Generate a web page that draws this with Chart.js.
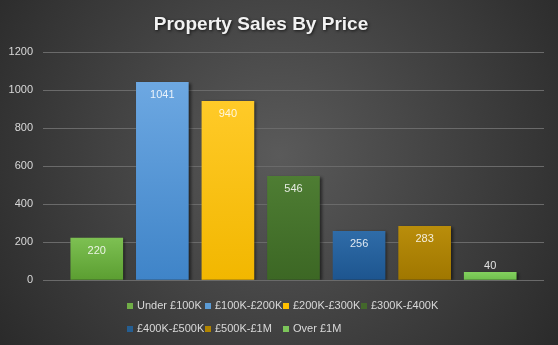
<!DOCTYPE html>
<html>
<head>
<meta charset="utf-8">
<script src="https://cdn.jsdelivr.net/npm/chart.js@4.4.1/dist/chart.umd.min.js"></script>
<style>
  html, body { margin: 0; padding: 0; background: #333; }
  canvas { display: block; }
</style>
</head>
<body>
<canvas id="chart" width="558" height="345"></canvas>
<script>
const chartTitle = "Property Sales By Price";
const categories = ["Under £100K", "£100K-£200K", "£200K-£300K", "£300K-£400K", "£400K-£500K", "£500K-£1M", "Over £1M"];
const sales = [220, 1041, 940, 546, 256, 283, 40];
const yMax = 1200, yStep = 200;

// lighter top / darker bottom of each bar
const topColors = ["#7dc052", "#6da8e2", "#ffca28", "#4e7d33", "#2f6ca8", "#b98d0b", "#82cf5e"];
const bottomColors = ["#5b9e31", "#3f84c8", "#f2b700", "#3c6724", "#1d558f", "#a07700", "#6fbe4c"];
const legendColors = ["#70ad47", "#5b9bd5", "#ffc000", "#43682b", "#255e91", "#b08400", "#7cc55a"];

const font = "'Liberation Sans', Arial, sans-serif";
const textColor = "#d9d9d9";

function barFill(ctx) {
  const chart = ctx.chart, i = ctx.dataIndex;
  if (!chart.chartArea || !chart.scales.y) return bottomColors[i];
  const top = chart.scales.y.getPixelForValue(sales[i]);
  const bottom = chart.scales.y.getPixelForValue(0);
  const g = chart.ctx.createLinearGradient(0, top, 0, bottom);
  g.addColorStop(0, topColors[i]);
  g.addColorStop(1, bottomColors[i]);
  return g;
}

const background = {
  id: "background",
  beforeDraw(chart) {
    const c = chart.ctx, w = chart.width, h = chart.height;
    const g = c.createRadialGradient(w / 2, h * 0.45, 0, w / 2, h * 0.45, 340);
    g.addColorStop(0, "#5a5a5a");
    g.addColorStop(1, "#2a2a2a");
    c.save();
    c.fillStyle = g;
    c.fillRect(0, 0, w, h);
    c.restore();
  }
};

const barExtras = {
  id: "barExtras",
  beforeDatasetsDraw(chart) {
    const c = chart.ctx;
    c.save();
    c.shadowColor = "rgba(0,0,0,0.55)";
    c.shadowBlur = 3;
    c.shadowOffsetX = 2;
    c.shadowOffsetY = 1;
  },
  afterDatasetsDraw(chart) {
    const c = chart.ctx;
    c.restore();
    c.save();
    c.font = "11px " + font;
    c.fillStyle = "rgba(255,255,255,0.85)";
    c.textAlign = "center";
    c.textBaseline = "middle";
    chart.getDatasetMeta(0).data.forEach((bar, i) => {
      const h = bar.base - bar.y;
      const y = h < 24 ? bar.y - 6 : bar.y + 13;
      c.fillText(String(sales[i]), bar.x, y);
    });
    c.restore();
  }
};

const titleAndLegend = {
  id: "titleAndLegend",
  afterDraw(chart) {
    const c = chart.ctx;
    c.save();
    c.font = "bold 19px " + font;
    c.fillStyle = "#f2f2f2";
    c.textAlign = "center";
    c.textBaseline = "middle";
    c.shadowColor = "rgba(0,0,0,0.7)";
    c.shadowBlur = 3;
    c.shadowOffsetX = 1;
    c.shadowOffsetY = 1;
    c.fillText(chartTitle, 261, 25);
    c.restore();

    c.save();
    c.font = "11px " + font;
    c.textBaseline = "middle";
    categories.forEach((label, i) => {
      const col = i % 4, row = Math.floor(i / 4);
      const x = 127 + col * 78, y = 306 + row * 23;
      c.fillStyle = legendColors[i];
      c.fillRect(x, y - 3, 6, 6);
      c.fillStyle = textColor;
      c.fillText(label, x + 10, y);
    });
    c.restore();
  }
};

new Chart(document.getElementById("chart"), {
  type: "bar",
  data: {
    labels: categories,
    datasets: [{
      label: "Sales",
      data: sales.map((v, i) => ({ x: i, y: v })),
      backgroundColor: barFill,
      borderWidth: 0,
      barThickness: 52
    }]
  },
  options: {
    responsive: false,
    animation: false,
    layout: { padding: { top: 52, bottom: 65, left: 0, right: 14 } },
    plugins: {
      legend: { display: false },
      title: { display: false },
      tooltip: { enabled: false }
    },
    scales: {
      x: {
        type: "linear",
        min: -0.82,
        max: 6.82,
        offset: false,
        display: false
      },
      y: {
        min: 0,
        max: yMax,
        afterFit(scale) { scale.width = 43; },
        ticks: { stepSize: yStep, color: textColor, padding: 10, font: { family: font, size: 11 }, callback: v => String(v) },
        grid: { color: "#6a6a6a", lineWidth: 1, drawTicks: false },
        border: { display: false }
      }
    }
  },
  plugins: [background, barExtras, titleAndLegend]
});
</script>
</body>
</html>
